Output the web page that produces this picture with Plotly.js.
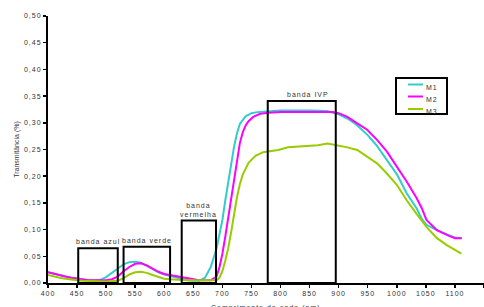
<!DOCTYPE html>
<html>
<head>
<meta charset="utf-8">
<script src="https://cdn.plot.ly/plotly-3.0.1.min.js"></script>
<style>
html,body{margin:0;padding:0;background:#fff;}
#chart{width:484px;height:307px;}
text{letter-spacing:1px;}
.g-ytitle text{letter-spacing:0;}
</style>
</head>
<body>
<div id="chart"></div>
<script>
// Wavelength (nm) and transmittance values
const m1X = [400,410,420,430,440,450,460,470,480,490,500,510,520,530,540,550,560,570,580,590,600,610,620,630,640,650,660,670,680,690,695,700,705,710,715,720,725,730,740,750,760,780,800,850,880,900,915,930,950,965,983,1000,1017,1034,1043,1051,1069,1086,1100,1110];
const m1Y = [0.020,0.017,0.014,0.012,0.010,0.008,0.006,0.005,0.005,0.006,0.011,0.019,0.028,0.035,0.039,0.040,0.038,0.032,0.025,0.020,0.016,0.013,0.010,0.007,0.005,0.004,0.004,0.010,0.030,0.065,0.090,0.118,0.155,0.190,0.225,0.255,0.280,0.298,0.312,0.318,0.320,0.322,0.323,0.323,0.322,0.316,0.308,0.297,0.277,0.258,0.230,0.204,0.168,0.140,0.120,0.109,0.099,0.092,0.085,0.084];

const m2X = [400,410,420,430,440,450,460,470,480,490,500,510,520,530,540,550,560,570,580,590,600,610,620,630,640,650,660,680,690,695,700,705,710,715,720,725,730,735,740,745,753,765,780,800,850,890,900,915,932,949,966,983,1000,1017,1034,1043,1051,1069,1086,1100,1112];
const m2Y = [0.020,0.017,0.014,0.012,0.010,0.008,0.006,0.005,0.005,0.005,0.005,0.007,0.012,0.022,0.030,0.036,0.037,0.033,0.027,0.021,0.017,0.015,0.013,0.011,0.008,0.006,0.005,0.005,0.012,0.030,0.055,0.087,0.122,0.160,0.198,0.235,0.262,0.282,0.295,0.303,0.311,0.317,0.319,0.320,0.320,0.320,0.318,0.311,0.299,0.287,0.268,0.246,0.218,0.190,0.159,0.140,0.118,0.099,0.090,0.084,0.084];

const m3X = [400,410,420,430,440,450,460,480,500,520,530,540,550,560,570,580,590,600,610,620,640,660,690,695,700,705,710,715,720,725,730,735,745,757,770,796,813,830,864,881,898,915,932,949,966,983,1000,1017,1028,1035,1051,1069,1086,1103,1111];
const m3Y = [0.015,0.012,0.010,0.008,0.006,0.005,0.004,0.003,0.003,0.004,0.009,0.016,0.020,0.021,0.019,0.015,0.011,0.008,0.007,0.006,0.005,0.005,0.005,0.010,0.022,0.042,0.065,0.095,0.130,0.160,0.185,0.203,0.225,0.238,0.245,0.249,0.254,0.255,0.258,0.261,0.258,0.254,0.249,0.237,0.224,0.205,0.184,0.155,0.137,0.128,0.105,0.084,0.071,0.059,0.055];

const seriesNames = ['M1','M2','M3'];
const seriesColors = ['#33CCCC','#FF00FF','#99CC00'];

// Spectral bands: start nm, end nm, box height
const bandNames = ['banda azul','banda verde','banda<br>vermelha','banda IVP'];
const bandStart = [452, 530, 630, 778];
const bandEnd   = [520, 610, 689, 895];
const bandTop   = [0.065, 0.068, 0.117, 0.341];

const xTicks = [400,450,500,550,600,650,700,750,800,850,900,950,1000,1050,1100,1150];
const yTicks = [0,0.05,0.10,0.15,0.20,0.25,0.30,0.35,0.40,0.45,0.50];
const xTickText = xTicks.map(v => String(v));
const yTickText = yTicks.map(v => v.toFixed(2).replace('.', ','));

const xTitle = 'Comprimento de onda (nm)';
const yTitle = 'Transmitância (%)';

const font = 'Liberation Sans, Arial, sans-serif';
const txt = '#333';
const M = {l: 48, r: 0, t: 16, b: 24};
const W = 484, H = 307;
const pw = W - M.l - M.r, ph = H - M.t - M.b;
const px2x = p => (p - M.l) / pw;
const px2y = p => (H - M.b - p) / ph;

const traces = [[m1X,m1Y],[m2X,m2Y],[m3X,m3Y]].map((d,i) => ({
  x: d[0], y: d[1], type: 'scatter', mode: 'lines', name: seriesNames[i],
  line: {color: seriesColors[i], width: 2}
}));

const shapes = bandStart.map((s,i) => ({
  type: 'rect', xref: 'x', yref: 'y', x0: s, x1: bandEnd[i], y0: 0, y1: bandTop[i],
  line: {color: '#000', width: 2}, fillcolor: 'rgba(0,0,0,0)'
}));

const annotations = bandStart.map((s,i) => ({
  xref: 'x', yref: 'y', x: (s + bandEnd[i]) / 2 + (i === 3 ? 10 : 0), y: bandTop[i],
  yanchor: 'bottom', showarrow: false, text: bandNames[i],
  font: {family: font, size: 7, color: txt}, yshift: 1
}));

// x-axis title (sits low, partly cropped as in the reference)
annotations.push({xref: 'paper', yref: 'paper', x: 0.5, y: px2y(307.5),
  xanchor: 'center', yanchor: 'middle', showarrow: false, text: xTitle,
  font: {family: font, size: 7, color: txt}});

// Legend box (compact boxed key like the reference)
shapes.push({type: 'rect', xref: 'paper', yref: 'paper',
  x0: px2x(396), x1: px2x(447), y0: px2y(114), y1: px2y(78),
  line: {color: '#000', width: 2}, fillcolor: '#fff', layer: 'above'});
const legLineY = [84.5, 96.5, 109];
const legTextY = [87, 99, 111];
seriesNames.forEach((n,i) => {
  shapes.push({type: 'line', xref: 'paper', yref: 'paper',
    x0: px2x(408), x1: px2x(423), y0: px2y(legLineY[i]), y1: px2y(legLineY[i]),
    line: {color: seriesColors[i], width: 2}, layer: 'above'});
  annotations.push({xref: 'paper', yref: 'paper', x: px2x(423.5), y: px2y(legTextY[i]),
    xanchor: 'left', yanchor: 'middle', showarrow: false, text: n,
    font: {family: font, size: 7, color: txt}});
});

const layout = {
  width: W, height: H,
  margin: M,
  paper_bgcolor: '#fff', plot_bgcolor: '#fff',
  font: {family: font, size: 7, color: txt},
  showlegend: false,
  xaxis: {
    range: [400, 1150], tickvals: xTicks, ticktext: xTickText,
    showgrid: false, zeroline: false, showline: true, linecolor: '#000', linewidth: 2,
    ticks: 'outside', ticklen: 3, tickwidth: 1.5, tickcolor: '#000',
    tickfont: {family: font, size: 7, color: txt}
  },
  yaxis: {
    range: [0, 0.5], tickvals: yTicks, ticktext: yTickText,
    showgrid: false, zeroline: false, showline: true, linecolor: '#000', linewidth: 2,
    ticks: 'outside', ticklen: 3, tickwidth: 1.5, tickcolor: '#000',
    tickfont: {family: font, size: 7, color: txt},
    title: {text: yTitle, font: {family: font, size: 7, color: txt}, standoff: 4}
  },
  shapes: shapes,
  annotations: annotations
};

Plotly.newPlot('chart', traces, layout, {displayModeBar: false, staticPlot: true});
</script>
</body>
</html>
